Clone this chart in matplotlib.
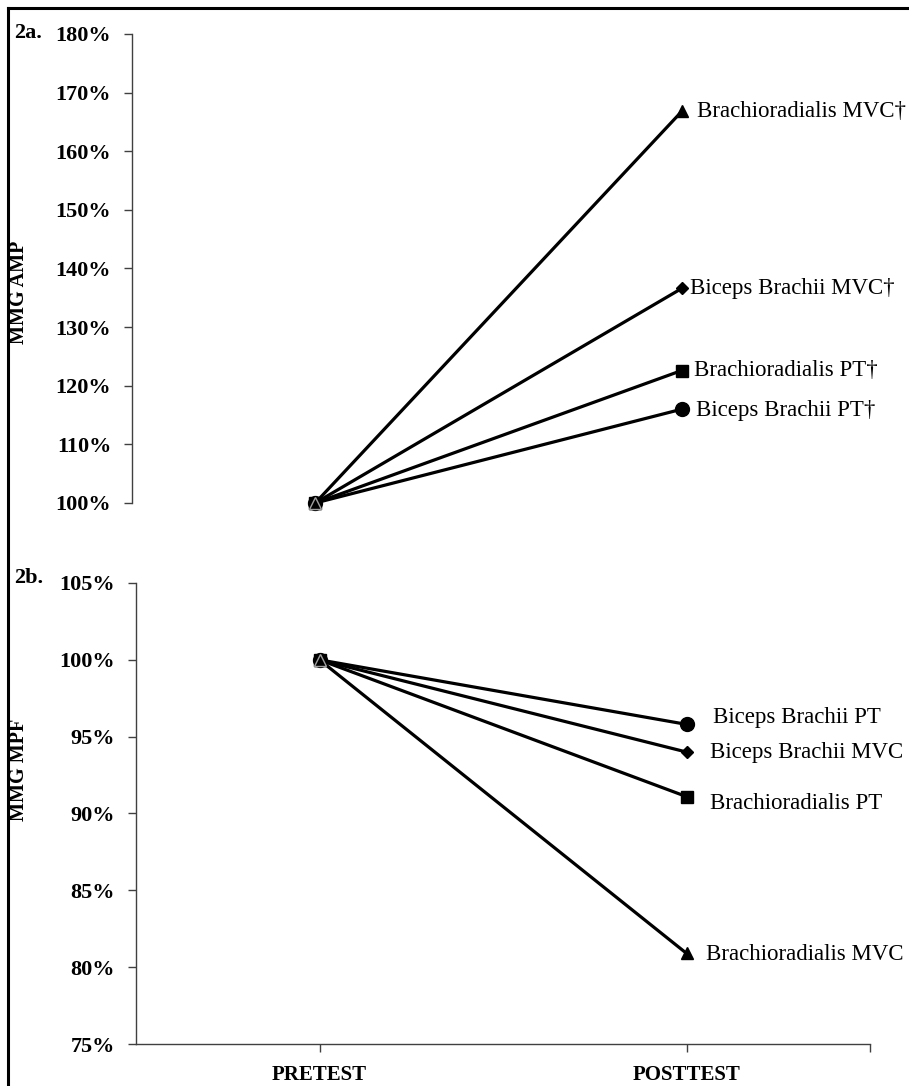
#!/usr/bin/env python3
# -*- coding: utf-8 -*-
"""
MMG AMP / MMG MPF 前后测对比图 (2a, 2b)
"""

import matplotlib
matplotlib.use("Agg")
import matplotlib.pyplot as plt
from matplotlib.lines import Line2D
from matplotlib.ticker import FuncFormatter

plt.rcParams['font.family'] = ['Liberation Serif', 'DejaVu Serif']

# 数据
phases = ['PRETEST', 'POSTTEST']
series = ['Biceps Brachii PT', 'Brachioradialis PT', 'Biceps Brachii MVC', 'Brachioradialis MVC']
markers = ['o', 's', 'D', '^']
marker_sizes = [10, 8.5, 6.5, 9]

amp_pre = [100, 100, 100, 100]
amp_post = [116.0, 122.6, 136.6, 166.8]
amp_labels = ['Biceps Brachii PT†', 'Brachioradialis PT†', 'Biceps Brachii MVC†', 'Brachioradialis MVC†']
amp_ticks = [100, 110, 120, 130, 140, 150, 160, 170, 180]

mpf_pre = [100, 100, 100, 100]
mpf_post = [95.8, 91.1, 94.0, 80.9]
mpf_labels = ['Biceps Brachii PT', 'Brachioradialis PT', 'Biceps Brachii MVC', 'Brachioradialis MVC']
mpf_ticks = [75, 80, 85, 90, 95, 100, 105]

# 标签偏移 (points)
amp_offsets = [(10, -1), (9, 0), (6, 0), (11, 0)]
mpf_offsets = [(19, 5), (17, -5), (17, 0), (14, -1)]

W, H = 909, 1086
fig = plt.figure(figsize=(W / 100, H / 100), dpi=100)
fig.patch.set_facecolor('white')

pct = FuncFormatter(lambda v, p: f"{v:.0f}%")


def style_axes(ax, ticks, show_x):
    for s in ['top', 'right']:
        ax.spines[s].set_visible(False)
    ax.spines['left'].set_color('#404040')
    ax.spines['left'].set_linewidth(1.0)
    ax.spines['bottom'].set_color('#404040')
    ax.spines['bottom'].set_linewidth(1.0)
    ax.spines['bottom'].set_visible(show_x)
    ax.set_xlim(0.5, 2.5)
    ax.set_ylim(ticks[0], ticks[-1])
    ax.set_yticks(ticks)
    ax.yaxis.set_major_formatter(pct)
    ax.tick_params(axis='y', direction='out', length=6, width=1, color='#404040',
                   pad=9, labelsize=16)
    for t in ax.get_yticklabels():
        t.set_fontweight('bold')
    if show_x:
        ax.set_xticks([1, 2, 2.5])
        ax.set_xticklabels([phases[0], phases[1], ''])
        ax.tick_params(axis='x', direction='out', length=6, width=1, color='#404040',
                       pad=9, labelsize=15)
        for t in ax.get_xticklabels():
            t.set_fontweight('bold')
    else:
        ax.set_xticks([])
    ax.patch.set_alpha(0)


def draw_panel(ax, pre, post, labels, offsets):
    for i in range(len(series)):
        ax.plot([1, 2], [pre[i], post[i]], color='black', linewidth=2.3,
                marker=markers[i], markersize=marker_sizes[i],
                markerfacecolor='black', markeredgecolor='black',
                solid_capstyle='butt', clip_on=False, zorder=3)
        ax.annotate(labels[i], xy=(2, post[i]), xytext=offsets[i],
                    textcoords='offset points', ha='left', va='center',
                    fontsize=16.5, annotation_clip=False)
    # 前测点上的三角形（灰色描边）
    ax.plot([1], [pre[3]], linestyle='none', marker='^', markersize=8,
            markerfacecolor='black', markeredgecolor='#a0a0a0',
            markeredgewidth=1.0, clip_on=False, zorder=4)


# 2a
ax1 = fig.add_axes([132 / W, 1 - 503 / H, (865 - 132) / W, (503 - 34) / H])
style_axes(ax1, amp_ticks, show_x=False)
draw_panel(ax1, amp_pre, amp_post, amp_labels, amp_offsets)

# 2b
ax2 = fig.add_axes([136 / W, 1 - 1044 / H, (870 - 136) / W, (1044 - 583) / H])
style_axes(ax2, mpf_ticks, show_x=True)
draw_panel(ax2, mpf_pre, mpf_post, mpf_labels, mpf_offsets)

# 面板编号与纵轴标题
fig.text(14 / W, 1 - 33 / H, '2a.', fontsize=16, fontweight='bold', ha='left', va='center')
fig.text(14 / W, 1 - 578 / H, '2b.', fontsize=16, fontweight='bold', ha='left', va='center')
fig.text(19 / W, 1 - 292 / H, 'MMG AMP', fontsize=14.5, fontweight='bold', rotation=90,
         ha='center', va='center')
fig.text(19 / W, 1 - 770 / H, 'MMG MPF', fontsize=14.5, fontweight='bold', rotation=90,
         ha='center', va='center')

# 外框
fig.add_artist(Line2D([8 / W, 1], [1 - 8 / H, 1 - 8 / H], color='black', linewidth=2.2,
                      transform=fig.transFigure))
fig.add_artist(Line2D([8 / W, 8 / W], [0, 1 - 8 / H], color='black', linewidth=2.2,
                      transform=fig.transFigure))

fig.savefig('out.png', dpi=100, facecolor='white')
